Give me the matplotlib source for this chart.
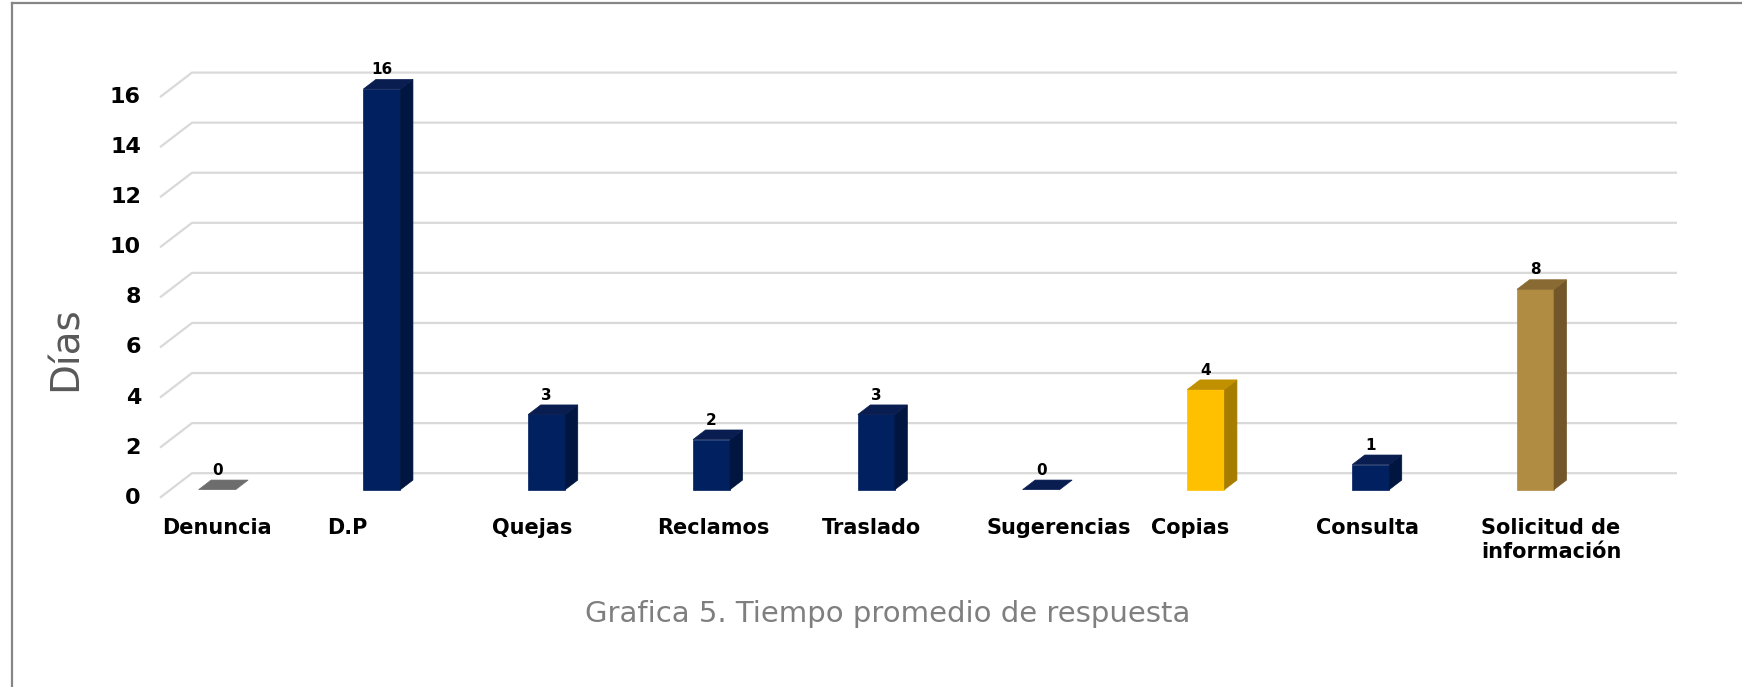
import matplotlib
matplotlib.use('Agg')
import matplotlib.pyplot as plt
from matplotlib.patches import Polygon
from matplotlib.lines import Line2D

# ---------------- data ----------------
categories = ['Denuncia', 'D.P', 'Quejas', 'Reclamos', 'Traslado',
              'Sugerencias', 'Copias', 'Consulta', 'Solicitud de\ninformación']
values = [0, 16, 3, 2, 3, 0, 4, 1, 8]
front_colors = ['#7f7f7f', '#002060', '#002060', '#002060', '#002060',
                '#002060', '#FFC000', '#002060', '#B08B42']
side_colors = ['#5f5f5f', '#001540', '#001540', '#001540', '#001540',
               '#001540', '#A67D00', '#001540', '#73572A']
top_colors = ['#6d6d6d', '#0a1d50', '#0a1d50', '#0a1d50', '#0a1d50',
              '#0a1d50', '#C09000', '#0a1d50', '#8A6A33']
yticks = [0, 2, 4, 6, 8, 10, 12, 14, 16]
ylabel = 'Días'
title = 'Grafica 5. Tiempo promedio de respuesta'

# ---------------- layout ----------------
W, H = 1742, 687
fig = plt.figure(figsize=(W / 100, H / 100), dpi=100)
fig.patch.set_facecolor('white')
ax = fig.add_axes([0, 0, 1, 1])

X0, XS = 206.6, 164.8     # pixel of category 0 (front plane), pixels per category
Y0, YS = 497.7, 25.04     # pixel of value 0 (front plane, from top), pixels per unit
ax.set_xlim(-X0 / XS, (W - X0) / XS)
ax.set_ylim((Y0 - H) / YS, Y0 / YS)
ax.axis('off')

DX = 32 / XS   # full depth shift in x (data units)
DY = 24.5 / YS  # full depth shift in y (data units)


def P(x, v, d):
    return (x + d * DX, v + d * DY)


XL = (160 - X0) / XS
XR = (1645 - X0) / XS

# gridlines (left wall diagonal + back wall line)
grid_c = '#d9d9d9'
for v in yticks:
    pts = [P(XL, v, 0), P(XL, v, 1), P(XR, v, 1)]
    ax.plot([p[0] for p in pts], [p[1] for p in pts], color=grid_c,
            lw=1.6, zorder=1, solid_capstyle='butt')
    ax.text(XL - (19 / XS), v, str(v), ha='right', va='center',
            fontsize=16, fontweight='bold', color='black')

# bars
hw = 37 / 2 / XS
d1, d2 = 0.33, 0.72
for i, (v, fc, sc, tc) in enumerate(zip(values, front_colors, side_colors, top_colors)):
    if v > 0:
        front = [P(i - hw, 0, d1), P(i + hw, 0, d1), P(i + hw, v, d1), P(i - hw, v, d1)]
        side = [P(i + hw, 0, d1), P(i + hw, 0, d2), P(i + hw, v, d2), P(i + hw, v, d1)]
        ax.add_patch(Polygon(front, closed=True, facecolor=fc, edgecolor=fc, lw=0.5, zorder=3))
        ax.add_patch(Polygon(side, closed=True, facecolor=sc, edgecolor=sc, lw=0.5, zorder=3))
    top = [P(i - hw, v, d1), P(i + hw, v, d1), P(i + hw, v, d2), P(i - hw, v, d2)]
    ax.add_patch(Polygon(top, closed=True, facecolor=tc, edgecolor=tc, lw=0.5, zorder=3))
    lx, ly = P(i, v, d1)
    ax.annotate(str(v), (lx, ly), xytext=(0, 14), textcoords='offset points',
                ha='center', va='center', fontsize=11, fontweight='bold',
                color='black', zorder=4)

# category labels
for i, c in enumerate(categories):
    ax.text(i - 0.268, (Y0 - 518) / YS, c, ha='left', va='top',
            fontsize=15, fontweight='bold', color='black',
            multialignment='center', linespacing=1.25)

# axis title
ax.text((66 - X0) / XS, (Y0 - 349) / YS, ylabel, rotation=90, ha='center',
        va='center', fontsize=28, color='#595959')

# chart title
ax.text((888 - X0) / XS, (Y0 - 614) / YS, title, ha='center', va='center',
        fontsize=21, color='#7f7f7f')

# chart border (left and top visible)
fig.add_artist(Line2D([12 / W, 12 / W], [0, 1 - 3 / H], transform=fig.transFigure,
                      color='#868686', lw=1.6))
fig.add_artist(Line2D([12 / W, 1], [1 - 3 / H, 1 - 3 / H], transform=fig.transFigure,
                      color='#868686', lw=1.6))

fig.savefig('out.png', dpi=100, facecolor='white')
